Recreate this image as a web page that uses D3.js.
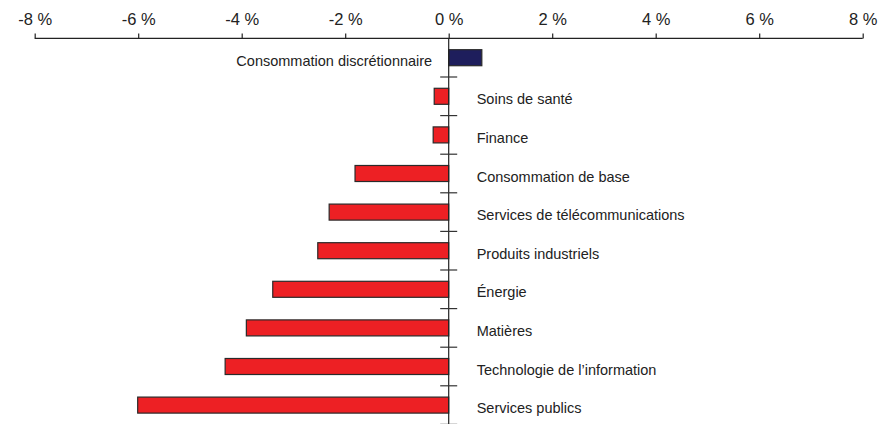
<!DOCTYPE html>
<html lang="fr">
<head>
<meta charset="utf-8">
<script src="https://cdn.jsdelivr.net/npm/d3@7/dist/d3.min.js"></script>
<style type="text/css">
body {
	margin: 0;
	background: #ffffff;
	font-family: "Liberation Sans", Arial, sans-serif;
}
</style>
</head>
<body>
<script type="text/javascript">

// sectors, top to bottom
var sectors = ["Consommation discrétionnaire", "Soins de santé", "Finance", "Consommation de base",
	"Services de télécommunications", "Produits industriels", "Énergie", "Matières",
	"Technologie de l’information", "Services publics"];
// change in percent
var values = [0.64, -0.28, -0.30, -1.81, -2.31, -2.53, -3.40, -3.91, -4.32, -6.01];
var tickValues = [-8, -6, -4, -2, 0, 2, 4, 6, 8];

var width = 895;
var height = 424;

var svg = d3.select("body")
			.append("svg")
			.attr("width", width)
			.attr("height", height);

// x scale, axis on top
var x = d3.scaleLinear()
			.domain([-8, 8])
			.range([34.7, 862.7]);

var y = d3.scaleBand()
			.domain(sectors)
			.range([38.4, 424.4])
			.paddingInner(0.585)
			.paddingOuter(0.2925);

var axisY = 38.4;

// top axis
var xAxis = d3.axisTop(x)
			.tickValues(tickValues)
			.tickSize(5)
			.tickPadding(8)
			.tickFormat(function(d) { return d + " %"; });

var gx = svg.append("g")
			.attr("transform", "translate(0," + axisY + ")")
			.call(xAxis);

gx.select(".domain")
	.attr("d", "M" + x(-8) + ",0H" + x(8))
	.attr("stroke", "#222")
	.attr("stroke-width", 1.2);
gx.selectAll(".tick line").attr("stroke", "#222").attr("stroke-width", 1.2);
gx.selectAll(".tick text")
	.attr("fill", "#222")
	.style("font-size", "16.5px")
	.style("font-family", "'Liberation Sans', Arial, sans-serif");

// bars
svg.selectAll("rect.bar")
	.data(values)
	.enter()
	.append("rect")
	.attr("class", "bar")
	.attr("x", function(d) { return x(Math.min(0, d)); })
	.attr("y", function(d, i) { return y(sectors[i]); })
	.attr("width", function(d) { return Math.abs(x(d) - x(0)); })
	.attr("height", y.bandwidth())
	.style("fill", function(d) { return d >= 0 ? "#1e1e5c" : "#ed2024"; })
	.style("stroke", "#2a2a2a")
	.style("stroke-width", 1.2);

// zero line
svg.append("line")
	.attr("x1", x(0)).attr("x2", x(0))
	.attr("y1", axisY).attr("y2", height)
	.attr("stroke", "#222")
	.attr("stroke-width", 1.2);

// category separators on zero line
var step = y.step();
var seps = d3.range(1, sectors.length + 1).map(function(i) { return axisY + i * step; });
svg.selectAll("line.sep")
	.data(seps)
	.enter()
	.append("line")
	.attr("class", "sep")
	.attr("x1", x(0) - 8.5)
	.attr("x2", x(0) + 8.5)
	.attr("y1", function(d) { return d; })
	.attr("y2", function(d) { return d; })
	.attr("stroke", "#333")
	.attr("stroke-width", 1.2);

// labels on the opposite side of the bar
svg.selectAll("text.lab")
	.data(values)
	.enter()
	.append("text")
	.attr("class", "lab")
	.attr("x", function(d) { return d >= 0 ? x(0) - 16.5 : x(0) + 28; })
	.attr("y", function(d, i) { return y(sectors[i]) + y.bandwidth() / 2 + 3; })
	.attr("dy", "0.35em")
	.attr("text-anchor", function(d) { return d >= 0 ? "end" : "start"; })
	.style("font-size", "14.5px")
	.style("fill", "#222")
	.text(function(d, i) { return sectors[i]; });

</script>
</body>
</html>
